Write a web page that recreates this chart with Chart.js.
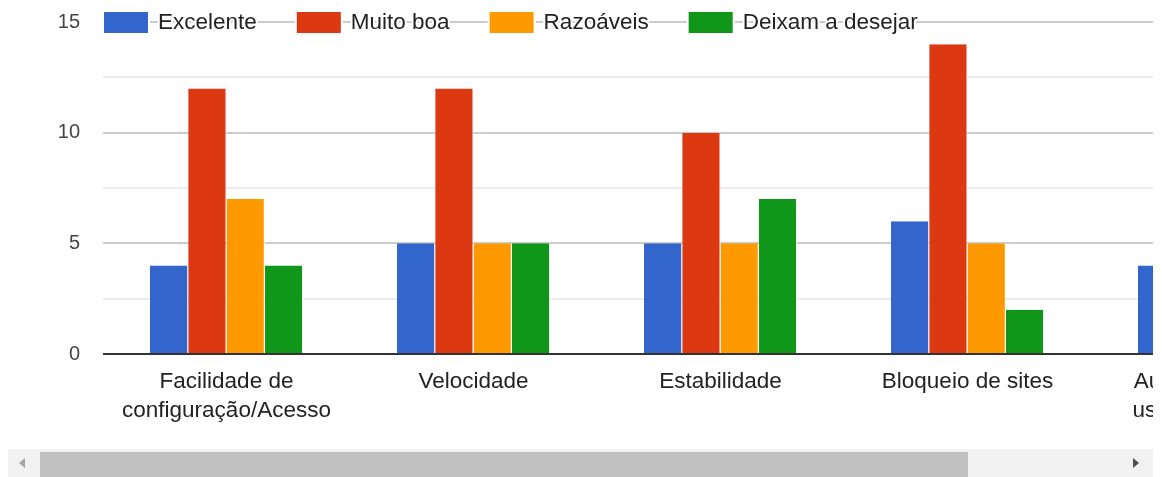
<!DOCTYPE html>
<html>
<head>
<meta charset="utf-8">
<script src="https://cdn.jsdelivr.net/npm/chart.js@4.4.1/dist/chart.umd.min.js"></script>
<style>
  html, body { margin: 0; padding: 0; background: #fff; }
  body { width: 1162px; height: 477px; position: relative; overflow: hidden; }
  .viewport { position: absolute; left: 0; top: 0; width: 1153px; height: 446px; overflow: hidden; }
  .chart-box { position: relative; width: 1365px; height: 440px; }
  .scrollbar { position: absolute; left: 8px; top: 449px; width: 1145px; height: 28px; background: #f1f1f1; }
  .thumb { position: absolute; left: 32px; top: 3px; width: 928px; height: 25px; background: #c1c1c1; }
  .arrow-left, .arrow-right { position: absolute; top: 9px; width: 0; height: 0; border-style: solid; }
  .arrow-left { left: 11px; border-width: 5px 6px 5px 0; border-color: transparent #a3a3a3 transparent transparent; }
  .arrow-right { left: 1125px; border-width: 5px 0 5px 6px; border-color: transparent transparent transparent #505050; }
</style>
</head>
<body>
<div class="viewport">
  <div class="chart-box"><canvas id="bars"></canvas></div>
</div>
<div class="scrollbar">
  <div class="arrow-left"></div>
  <div class="thumb"></div>
  <div class="arrow-right"></div>
</div>
<script>
const categories = [
  ['Facilidade de', 'configuração/Acesso'],
  'Velocidade',
  'Estabilidade',
  'Bloqueio de sites',
  ['Autenticação de', 'usuários/senhas']
];
const seriesNames = ['Excelente', 'Muito boa', 'Razoáveis', 'Deixam a desejar'];
const excelente = [4, 5, 5, 6, 4];
const muitoBoa = [12, 12, 10, 14, 13];
const razoaveis = [7, 5, 5, 5, 7];
const deixamADesejar = [4, 5, 7, 2, 3];
const yTicks = [0, 5, 10, 15];

const colors = ['#3366cc', '#dc3912', '#ff9900', '#109618'];
const FONT = '"Liberation Sans", Arial, sans-serif';

// legend sits on the top gridline, glyphs get a white halo so the line breaks around them
const lineLegend = {
  id: 'lineLegend',
  afterDraw(chart) {
    const ctx = chart.ctx;
    const y = chart.scales.y.getPixelForValue(yTicks[yTicks.length - 1]);
    let x = chart.chartArea.left + 1;
    ctx.save();
    ctx.font = '22.5px ' + FONT;
    ctx.textBaseline = 'middle';
    ctx.lineJoin = 'round';
    chart.data.datasets.forEach(ds => {
      ctx.fillStyle = '#fff';
      ctx.fillRect(x - 2, y - 12, 48, 25);
      ctx.fillStyle = ds.backgroundColor;
      ctx.fillRect(x, y - 10, 44, 21);
      x += 54;
      ctx.lineWidth = 4;
      ctx.strokeStyle = '#fff';
      ctx.strokeText(ds.label, x, y + 1);
      ctx.fillStyle = '#222';
      ctx.fillText(ds.label, x, y + 1);
      x += ctx.measureText(ds.label).width + 40;
    });
    ctx.restore();
  }
};

const seriesValues = [excelente, muitoBoa, razoaveis, deixamADesejar];

new Chart(document.getElementById('bars'), {
  type: 'bar',
  data: {
    labels: categories,
    datasets: seriesValues.map((vals, i) => ({
      label: seriesNames[i],
      data: vals,
      backgroundColor: colors[i],
      borderColor: '#fff',
      borderWidth: { left: 0, right: 1, top: 0, bottom: 0 },
      barPercentage: 1,
      categoryPercentage: 0.62
    }))
  },
  options: {
    responsive: true,
    maintainAspectRatio: false,
    animation: false,
    layout: { padding: { top: 22, right: 27, left: 0, bottom: 0 } },
    plugins: {
      legend: { display: false },
      tooltip: { enabled: false }
    },
    scales: {
      x: {
        grid: { display: false },
        border: { display: false },
        ticks: {
          color: '#222',
          font: { family: FONT, size: 22.5, lineHeight: 1.3 },
          padding: 5,
          autoSkip: false,
          maxRotation: 0
        },
        afterFit: s => {
          s.height = 86;
          s.paddingLeft = 0;
          s.paddingRight = 0;
        }
      },
      y: {
        min: 0,
        max: 15,
        border: { display: false },
        grid: {
          drawTicks: false,
          lineWidth: 2,
          color: c => c.tick.value === 0 ? '#333' : (c.tick.value % 5 === 0 ? '#ccc' : '#ebebeb')
        },
        ticks: {
          stepSize: 2.5,
          padding: 23,
          color: '#444',
          font: { family: FONT, size: 20 },
          callback: v => yTicks.includes(v) ? v : ''
        },
        afterFit: s => {
          s.width = 103;
          s.paddingTop = 0;
          s.paddingBottom = 0;
        }
      }
    }
  },
  plugins: [lineLegend]
});
</script>
</body>
</html>
